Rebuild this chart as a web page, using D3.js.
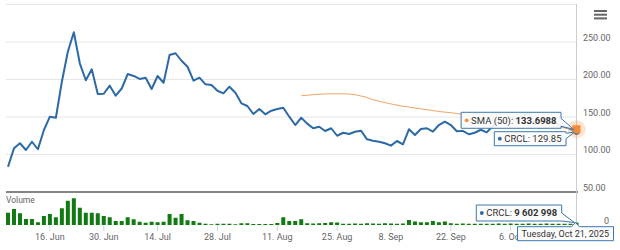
<!DOCTYPE html>
<html>
<head>
<meta charset="utf-8">
<script src="https://cdn.jsdelivr.net/npm/d3@7"></script>
<style>
  html, body { margin: 0; padding: 0; background: #fff; }
  svg { display: block; font-family: Roboto, Arial, sans-serif; }
</style>
</head>
<body>
<svg width="620" height="250"></svg>
<script>
// trading days (ordinal x axis, no gaps for weekends / holidays)
const dates = [
  "2025-06-05","2025-06-06","2025-06-09","2025-06-10","2025-06-11","2025-06-12","2025-06-13",
  "2025-06-16","2025-06-17","2025-06-18","2025-06-20","2025-06-23","2025-06-24","2025-06-25",
  "2025-06-26","2025-06-27","2025-06-30",
  "2025-07-01","2025-07-02","2025-07-03","2025-07-07","2025-07-08","2025-07-09","2025-07-10",
  "2025-07-11","2025-07-14","2025-07-15","2025-07-16","2025-07-17","2025-07-18","2025-07-21",
  "2025-07-22","2025-07-23","2025-07-24","2025-07-25","2025-07-28","2025-07-29","2025-07-30","2025-07-31",
  "2025-08-01","2025-08-04","2025-08-05","2025-08-06","2025-08-07","2025-08-08","2025-08-11",
  "2025-08-12","2025-08-13","2025-08-14","2025-08-15","2025-08-18","2025-08-19","2025-08-20",
  "2025-08-21","2025-08-22","2025-08-25","2025-08-26","2025-08-27","2025-08-28","2025-08-29",
  "2025-09-02","2025-09-03","2025-09-04","2025-09-05","2025-09-08","2025-09-09","2025-09-10",
  "2025-09-11","2025-09-12","2025-09-15","2025-09-16","2025-09-17","2025-09-18","2025-09-19",
  "2025-09-22","2025-09-23","2025-09-24","2025-09-25","2025-09-26","2025-09-29","2025-09-30",
  "2025-10-01","2025-10-02","2025-10-03","2025-10-06","2025-10-07","2025-10-08","2025-10-09",
  "2025-10-10","2025-10-13","2025-10-14","2025-10-15","2025-10-16","2025-10-17","2025-10-20","2025-10-21"
];

const closes = [
  83.7, 108.2, 115, 106, 117, 107, 132.7, 150.4, 149, 197, 237, 263, 221.6, 199, 213.6, 180.7, 181,
  191.8, 178.4, 188, 207.3, 204.7, 200.7, 202.4, 187.3, 204.7, 195.7, 232.7, 235, 225, 217, 198.4,
  202.4, 193.6, 192.7, 185, 181.6, 190.4, 182.4,
  168.2, 164.7, 154, 160.7, 153.6, 158.4, 160.7, 162.4, 150.4, 139.3, 149, 141.2, 135, 137, 131.3,
  135, 125, 129, 127.3, 130.4, 131.7,
  120.2, 118.4, 117, 115, 111.8, 118, 113.6, 133.6, 126, 134, 135, 130.4, 139.3, 143.7, 139.3, 131,
  131.5, 127, 129, 133, 129.5,
  138, 142, 145, 150, 146, 152, 154, 140, 143, 148, 145, 140, 137, 134, 129.85
];

// volume, millions of shares
const volumes = [
  49, 64, 47, 24, 24, 11, 36, 44, 31, 67, 97, 107, 69, 49, 49, 47, 36, 31, 16, 16, 31, 23, 13, 9,
  13, 11, 13, 44, 29, 44, 19, 16, 9, 5, 3, 5, 5, 5, 3, 7, 7, 4, 4, 4, 4, 8, 31, 16, 16, 23, 7,
  6, 7, 8, 11, 10, 5, 5, 6, 5, 7, 6, 5, 7, 6, 5, 6, 20, 14, 11, 11, 16, 11, 14, 7, 5, 6, 5, 5,
  5, 5, 5, 6, 5, 6, 5, 5, 6, 5, 5, 6, 5, 5, 5, 5, 9.602998
];

// SMA (50), first value on the 50th trading day
const smaStart = 49;
const smaValues = [
  178.4, 179, 179.8, 180.3, 180.7, 181, 181, 180.9, 180.7, 179.8, 178, 176, 173, 171, 169.2,
  167.4, 165.8, 164.3, 163.3, 162, 160.8, 159.7, 158.6, 157.3, 156.5, 155.7, 154.7, 153.5, 152.3,
  151.2, 150, 148.8, 147.7, 146.6, 145.5, 144.4, 143.3, 142.3, 141.3, 140.3, 139.3, 138.3, 137.3,
  136.3, 135.4, 134.5, 133.6988
];

const priceTicks = [100, 150, 200, 250, 300];
const priceTickLabels = ["100.00", "150.00", "200.00", "250.00", ""];
const dateTicks = ["2025-06-16","2025-06-30","2025-07-14","2025-07-28","2025-08-11",
                   "2025-08-25","2025-09-08","2025-09-22","2025-10-06"];
const dateTickLabels = ["16. Jun","30. Jun","14. Jul","28. Jul","11. Aug","25. Aug","8. Sep","22. Sep","6. Oct"];

const blue = "#2b6aa6";
const orange = "#f4a466";
const green = "#127a12";

const svg = d3.select("svg");
const left = 6, right = 577;

const x = d3.scaleLinear().domain([0, dates.length - 1]).range([8, 576.5]);
const y = d3.scaleLinear().domain([50, 300]).range([192, 4.5]);
const yv = d3.scaleLinear().domain([0, 132]).range([225, 192]);

// grid
svg.append("g").selectAll("line")
  .data(priceTicks)
  .join("line")
  .attr("x1", left).attr("x2", right)
  .attr("y1", d => y(d)).attr("y2", d => y(d))
  .attr("stroke", "#e6e6e6");

svg.append("g").selectAll("text")
  .data(priceTicks)
  .join("text")
  .attr("x", 583).attr("y", d => y(d) - 1.5)
  .attr("font-size", 9).attr("fill", "#666")
  .text((d, i) => priceTickLabels[i]);

// pane separator (50 line)
svg.append("line")
  .attr("x1", left).attr("x2", right + 1)
  .attr("y1", y(50)).attr("y2", y(50))
  .attr("stroke", "#5c5c5c").attr("stroke-width", 1.4);
svg.append("text")
  .attr("x", 583).attr("y", y(50) - 1.5)
  .attr("font-size", 9).attr("fill", "#666").text("50.00");

// volume axis label
svg.append("text")
  .attr("x", 609).attr("y", yv(0) - 1.5).attr("text-anchor", "end")
  .attr("font-size", 9).attr("fill", "#666").text("0");
svg.append("text")
  .attr("x", left).attr("y", 203)
  .attr("font-size", 8.5).attr("fill", "#666").text("Volume");

// x axis ticks
const tickIdx = dateTicks.map(d => dates.indexOf(d));
svg.append("g").selectAll("line")
  .data(tickIdx)
  .join("line")
  .attr("x1", d => x(d)).attr("x2", d => x(d))
  .attr("y1", 225).attr("y2", 231)
  .attr("stroke", "#ccd6eb");
svg.append("g").selectAll("text")
  .data(tickIdx)
  .join("text")
  .attr("x", d => x(d)).attr("y", 240)
  .attr("text-anchor", "middle")
  .attr("font-size", 9).attr("fill", "#666")
  .text((d, i) => dateTickLabels[i]);

// crosshair
const last = dates.length - 1;
svg.append("line")
  .attr("x1", x(last)).attr("x2", x(last))
  .attr("y1", 4).attr("y2", 225)
  .attr("stroke", "#cccccc");

// volume bars
svg.append("g").selectAll("rect")
  .data(volumes)
  .join("rect")
  .attr("x", (d, i) => x(i) - 2)
  .attr("width", 4)
  .attr("y", d => yv(d))
  .attr("height", d => yv(0) - yv(d))
  .attr("fill", green);

// price line
const line = d3.line().x((d, i) => x(i)).y(d => y(d));
svg.append("path")
  .datum(closes)
  .attr("d", line)
  .attr("fill", "none")
  .attr("stroke", blue)
  .attr("stroke-width", 2)
  .attr("stroke-linejoin", "round");

// SMA line
const smaLine = d3.line().x((d, i) => x(i + smaStart)).y(d => y(d));
svg.append("path")
  .datum(smaValues)
  .attr("d", smaLine)
  .attr("fill", "none")
  .attr("stroke", orange)
  .attr("stroke-width", 1);

// hover markers
const lastSma = smaValues[smaValues.length - 1];
svg.append("circle")
  .attr("cx", x(last)).attr("cy", y(closes[last])).attr("r", 3).attr("fill", blue);
svg.append("circle")
  .attr("cx", x(last)).attr("cy", y(lastSma)).attr("r", 9)
  .attr("fill", "#f7a35c").attr("opacity", 0.3);
svg.append("rect")
  .attr("x", x(last) - 4).attr("y", y(lastSma) - 4)
  .attr("width", 8).attr("height", 8)
  .attr("fill", "#f58a36");

// tooltips
const fmtThousands = v => Math.round(v).toString().replace(/\B(?=(\d{3})+(?!\d))/g, " ");

function tooltip(opts) {
  const g = svg.append("g");
  const path = g.append("path");
  const t = g.append("text").attr("font-size", opts.size).attr("fill", "#333");
  if (opts.dot) {
    g.append("circle").attr("r", 1.9).attr("fill", opts.dot).attr("class", "dot");
  }
  t.append("tspan").text(opts.label);
  if (opts.value) t.append("tspan").attr("font-weight", "bold").text(opts.value);
  const tw = t.node().getComputedTextLength();
  const padL = opts.dot ? 10 : 4, padR = 4.5;
  const w = padL + tw + padR, h = opts.h;
  const bx = opts.right - w, by = opts.top;
  t.attr("x", bx + padL).attr("y", by + h / 2 + 3.4);
  g.select(".dot").attr("cx", bx + 5.5).attr("cy", by + h / 2);
  const [ax, ay] = opts.anchor;
  let d;
  if (opts.side === "right") {
    const [a1, a2] = opts.notch;
    d = `M${bx},${by}H${bx + w}V${by + a1}L${ax},${ay}L${bx + w},${by + a2}V${by + h}H${bx}Z`;
  } else {
    d = `M${bx},${by}H${ax - 4}L${ax},${ay}L${ax + 4},${by}H${bx + w}V${by + h}H${bx}Z`;
  }
  path.attr("d", d)
    .attr("fill", "rgba(252,252,252,0.93)")
    .attr("stroke", opts.stroke)
    .attr("stroke-width", 1);
}

tooltip({
  label: "SMA (50): ", value: lastSma.toFixed(4), dot: "#f28f43", size: 9.5,
  right: x(last) - 15.5, top: 112.3, h: 16,
  side: "right", notch: [6, 14], anchor: [x(last) - 3, y(lastSma)], stroke: "#3d78b0"
});
tooltip({
  label: "CRCL: " + closes[last].toFixed(2), dot: blue, size: 9.5,
  right: x(last) - 10.5, top: 131.7, h: 14,
  side: "right", notch: [1.5, 7], anchor: [x(last) - 2, y(closes[last])], stroke: "#3d78b0"
});
tooltip({
  label: "CRCL: ", value: fmtThousands(volumes[last] * 1e6), dot: blue, size: 9.5,
  right: x(last) - 14.8, top: 205, h: 16,
  side: "right", notch: [8, 16], anchor: [x(last) - 2, yv(volumes[last])], stroke: "#3d78b0"
});
tooltip({
  label: "Tuesday, Oct 21, 2025", size: 9,
  right: x(last) + 37, top: 226.7, h: 14,
  side: "top", anchor: [x(last) - 1, 222.5], stroke: "#3d78b0"
});

// menu button
svg.append("g").selectAll("rect")
  .data([0, 1, 2])
  .join("rect")
  .attr("x", 594).attr("y", d => 10 + d * 3.7)
  .attr("width", 13).attr("height", 2)
  .attr("fill", "#666");
</script>
</body>
</html>
